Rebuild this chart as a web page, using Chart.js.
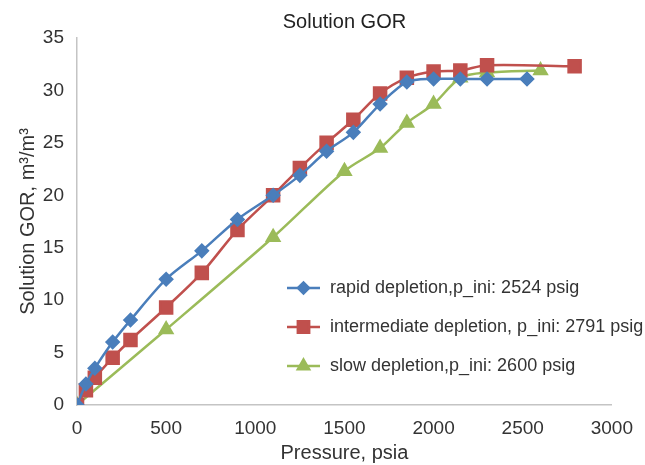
<!DOCTYPE html>
<html>
<head>
<meta charset="utf-8">
<title>Solution GOR</title>
<script src="https://cdn.jsdelivr.net/npm/chart.js@4.4.0/dist/chart.umd.min.js"></script>
<style>
  html, body { margin: 0; padding: 0; background: #fff; }
</style>
</head>
<body>
<canvas id="gorChart" width="645" height="465"></canvas>
<script>
// values
const seriesNames = [
  'rapid depletion,p_ini: 2524 psig',
  'intermediate depletion, p_ini: 2791 psig',
  'slow depletion,p_ini: 2600 psig'
];
const rapidPressure = [0, 50, 100, 200, 300, 500, 700, 900, 1100, 1250, 1400, 1550, 1700, 1850, 2000, 2150, 2300, 2524];
const rapidGor      = [0, 2.0, 3.5, 6.0, 8.1, 12.0, 14.7, 17.7, 20.0, 21.9, 24.2, 26.0, 28.7, 30.8, 31.1, 31.1, 31.1, 31.1];
const interPressure = [0, 50, 100, 200, 300, 500, 700, 900, 1100, 1250, 1400, 1550, 1700, 1850, 2000, 2150, 2300, 2791];
const interGor      = [0, 1.4, 2.6, 4.5, 6.2, 9.3, 12.6, 16.7, 20.0, 22.6, 25.0, 27.2, 29.7, 31.2, 31.8, 31.9, 32.4, 32.3];
const slowPressure  = [0, 500, 1100, 1500, 1700, 1850, 2000, 2150, 2300, 2600];
const slowGor       = [0, 7.2, 16.0, 22.3, 24.5, 26.9, 28.7, 31.2, 31.7, 31.9];
const xTickValues = [0, 500, 1000, 1500, 2000, 2500, 3000];
const yTickValues = [0, 5, 10, 15, 20, 25, 30, 35];

const FONT = '"Liberation Sans", Arial, Helvetica, sans-serif';
const toPoints = (xs, ys) => xs.map((x, i) => ({ x: x, y: ys[i] }));

// legend drawn inside the plot, line + marker like the original
const insideLegend = {
  id: 'insideLegend',
  afterLayout(chart) {
    // center the title over the plot area
    const t = chart.titleBlock;
    if (t) { t.left = chart.chartArea.left; t.right = chart.chartArea.right; }
  },
  afterDraw(chart) {
    const ctx = chart.ctx;
    const area = chart.chartArea;
    const x0 = area.left + 210;
    const y0 = area.top + 250;
    ctx.save();
    chart.data.datasets.forEach((ds, i) => {
      const y = y0 + i * 39;
      ctx.strokeStyle = ds.borderColor;
      ctx.lineWidth = ds.borderWidth;
      ctx.beginPath();
      ctx.moveTo(x0, y);
      ctx.lineTo(x0 + 33, y);
      ctx.stroke();
      ctx.fillStyle = ds.pointBackgroundColor;
      ctx.strokeStyle = ds.pointBorderColor;
      Chart.helpers.drawPoint(ctx, {
        pointStyle: ds.pointStyle, radius: ds.pointRadius - 0.5, rotation: 0, borderWidth: 1
      }, x0 + 16.5, y);
      ctx.fillStyle = '#333';
      ctx.font = '18px ' + FONT;
      ctx.textBaseline = 'middle';
      ctx.textAlign = 'left';
      ctx.fillText(ds.label, x0 + 43, y);
    });
    ctx.restore();
  }
};

new Chart(document.getElementById('gorChart'), {
  type: 'line',
  data: {
    datasets: [
      {
        label: seriesNames[0],
        data: toPoints(rapidPressure, rapidGor),
        borderColor: '#4a7ebb',
        backgroundColor: '#4a7ebb',
        pointBackgroundColor: '#4a7ebb',
        pointBorderColor: '#4a7ebb',
        pointStyle: 'rectRot',
        pointRadius: 6,
        borderWidth: 2.5,
        tension: 0.3
      },
      {
        label: seriesNames[1],
        data: toPoints(interPressure, interGor),
        borderColor: '#c0504d',
        backgroundColor: '#c0504d',
        pointBackgroundColor: '#c0504d',
        pointBorderColor: '#c0504d',
        pointStyle: 'rect',
        pointRadius: 8.5,
        borderWidth: 2.5,
        tension: 0.3
      },
      {
        label: seriesNames[2],
        data: toPoints(slowPressure, slowGor),
        borderColor: '#9bbb59',
        backgroundColor: '#9bbb59',
        pointBackgroundColor: '#9bbb59',
        pointBorderColor: '#9bbb59',
        pointStyle: 'triangle',
        pointRadius: 7,
        borderWidth: 2.5,
        tension: 0.3
      }
    ]
  },
  options: {
    responsive: false,
    animation: false,
    layout: { padding: { left: 0, right: 28, top: 0, bottom: 0 } },
    plugins: {
      legend: { display: false },
      tooltip: { enabled: false },
      title: {
        display: true,
        text: 'Solution GOR',
        color: '#222',
        font: { family: FONT, size: 20, weight: 'normal' },
        padding: { top: 10, bottom: 4 }
      }
    },
    scales: {
      x: {
        type: 'linear',
        min: 0,
        max: 3000,
        afterBuildTicks: (s) => { s.ticks = xTickValues.map(v => ({ value: v })); },
        afterFit: (s) => { s.height = 60; },
        grid: { display: false, drawTicks: false },
        border: { display: true, color: '#c4c4c4', width: 1.5 },
        ticks: {
          color: '#333', padding: 12, font: { family: FONT, size: 19 },
          callback: (v) => String(v)
        },
        title: {
          display: true,
          text: 'Pressure, psia',
          color: '#333',
          font: { family: FONT, size: 20 },
          padding: { top: 0, bottom: 0 }
        }
      },
      y: {
        type: 'linear',
        min: 0,
        max: 35,
        afterBuildTicks: (s) => { s.ticks = yTickValues.map(v => ({ value: v })); },
        afterFit: (s) => { s.width = 77; },
        grid: { display: false, drawTicks: false },
        border: { display: true, color: '#c4c4c4', width: 1.5 },
        ticks: {
          color: '#333', padding: 13, font: { family: FONT, size: 19 },
          callback: (v) => String(v)
        },
        title: {
          display: true,
          text: 'Solution GOR, m³/m³',
          color: '#333',
          font: { family: FONT, size: 20 },
          padding: { top: 16, bottom: 0 }
        }
      }
    }
  },
  plugins: [insideLegend]
});
</script>
</body>
</html>
